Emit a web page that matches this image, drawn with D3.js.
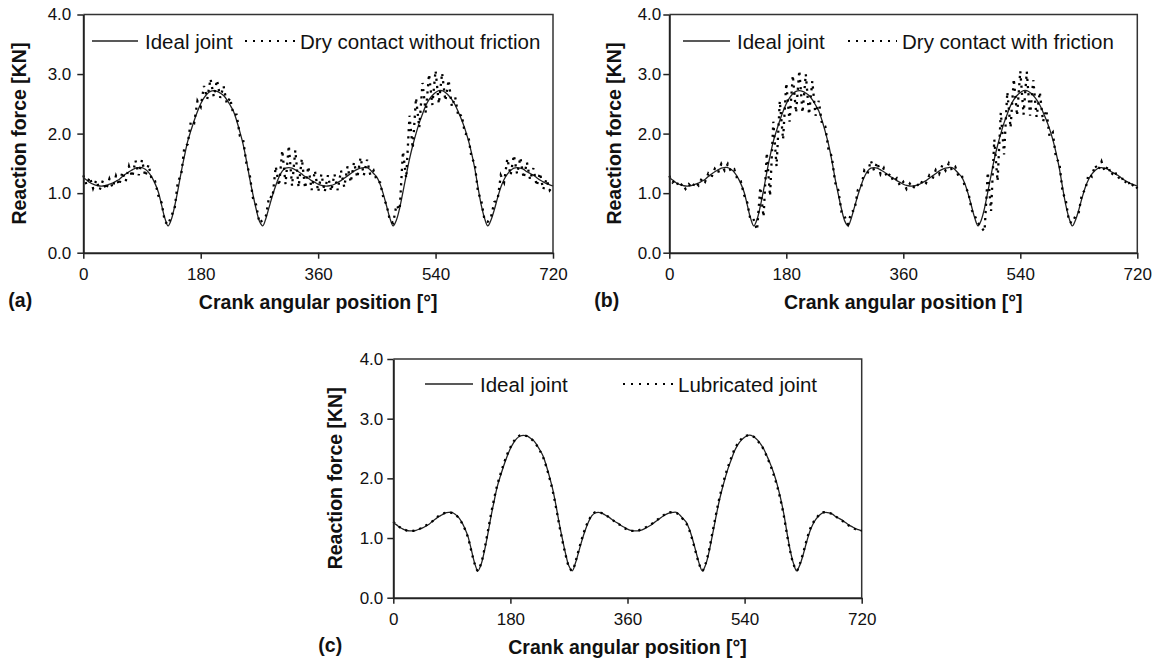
<!DOCTYPE html>
<html>
<head>
<meta charset="utf-8">
<script src="https://cdn.jsdelivr.net/npm/d3@7"></script>
<style>
  body { margin: 0; background: #fff; }
  text { font-family: "Liberation Sans", Arial, Helvetica, sans-serif; fill: #111; }
</style>
</head>
<body>
<svg id="chart" width="1162" height="659"></svg>
<script>
// Datos (grados del ciguenal, fuerza en KN)

const angles = d3.range(0, 721, 5);

const ideal = [
  1.26,1.22,1.18,1.15,1.13,1.12,1.12,1.13,1.15,1.17,1.20,1.23,
  1.28,1.32,1.36,1.39,1.42,1.43,1.43,1.40,1.35,1.27,1.16,1.02,
  0.80,0.58,0.45,0.56,0.78,1.05,1.35,1.62,1.87,2.05,2.22,2.37,
  2.50,2.60,2.67,2.71,2.72,2.71,2.68,2.64,2.57,2.48,2.38,2.22,
  2.03,1.82,1.55,1.25,0.98,0.73,0.53,0.45,0.58,0.77,0.96,1.13,
  1.27,1.37,1.42,1.43,1.42,1.39,1.36,1.32,1.28,1.25,1.21,1.18,
  1.15,1.13,1.12,1.12,1.13,1.15,1.18,1.21,1.25,1.29,1.33,1.37,
  1.40,1.42,1.43,1.43,1.39,1.33,1.27,1.15,0.98,0.78,0.58,0.45,
  0.55,0.75,1.02,1.30,1.57,1.80,2.00,2.18,2.33,2.47,2.57,2.64,
  2.69,2.72,2.72,2.69,2.64,2.57,2.48,2.36,2.23,2.08,1.90,1.68,
  1.42,1.10,0.80,0.58,0.45,0.55,0.72,0.92,1.10,1.23,1.32,1.38,
  1.42,1.43,1.42,1.40,1.36,1.33,1.30,1.26,1.22,1.19,1.16,1.14,
  1.12
];

const dryNoFriction = [
  1.30,1.14,1.27,1.08,1.22,1.05,1.21,1.06,1.24,1.09,1.29,1.13,
  1.36,1.20,1.45,1.27,1.55,1.30,1.56,1.28,1.48,1.22,1.20,0.96,
  0.84,0.52,0.47,0.62,0.74,1.20,1.30,1.78,1.82,2.22,2.18,2.55,
  2.45,2.80,2.58,2.92,2.62,2.90,2.60,2.80,2.50,2.60,2.32,2.32,
  1.96,1.90,1.50,1.32,0.92,0.80,0.50,0.55,0.62,0.95,0.92,1.45,
  1.12,1.72,1.15,1.80,1.12,1.72,1.10,1.58,1.08,1.45,1.05,1.38,
  1.02,1.32,1.02,1.30,1.03,1.32,1.05,1.38,1.10,1.45,1.18,1.52,
  1.26,1.60,1.30,1.56,1.30,1.38,1.20,1.18,0.92,0.80,0.54,0.50,
  0.80,0.72,1.70,1.25,2.30,1.75,2.60,2.10,2.85,2.35,3.00,2.48,
  3.06,2.50,3.02,2.55,2.90,2.45,2.62,2.28,2.32,2.00,1.98,1.60,
  1.50,1.02,0.88,0.55,0.52,0.60,0.85,0.88,1.30,1.18,1.58,1.30,
  1.64,1.32,1.60,1.25,1.52,1.22,1.42,1.12,1.34,1.06,1.24,1.05,
  1.12
];

const dryFriction = [
  1.29,1.18,1.22,1.10,1.16,1.07,1.15,1.09,1.19,1.13,1.25,1.19,
  1.33,1.27,1.41,1.34,1.49,1.38,1.49,1.36,1.40,1.22,1.20,0.97,
  0.84,0.54,0.55,0.38,1.10,0.60,1.68,0.95,2.20,1.45,2.55,1.90,
  2.85,2.20,2.98,2.35,3.06,2.35,3.00,2.32,2.88,2.30,2.55,2.15,
  2.12,1.72,1.62,1.18,1.05,0.68,0.60,0.48,0.68,0.72,1.05,1.08,
  1.38,1.32,1.55,1.38,1.52,1.32,1.42,1.26,1.33,1.19,1.25,1.12,
  1.19,1.07,1.16,1.08,1.17,1.11,1.22,1.17,1.30,1.24,1.39,1.32,
  1.47,1.38,1.50,1.38,1.44,1.28,1.30,1.10,1.02,0.72,0.62,0.50,
  0.42,0.36,1.35,0.70,1.90,1.20,2.35,1.65,2.70,2.10,2.92,2.30,
  3.05,2.32,3.04,2.30,2.90,2.28,2.70,2.20,2.40,1.95,2.02,1.58,
  1.52,1.02,0.88,0.52,0.50,0.62,0.68,1.00,1.05,1.32,1.28,1.47,
  1.38,1.53,1.36,1.46,1.30,1.38,1.24,1.30,1.16,1.23,1.10,1.16,
  1.08
];

const lubricated = [
  1.27,1.22,1.18,1.15,1.13,1.12,1.12,1.13,1.15,1.18,1.21,1.24,
  1.28,1.33,1.37,1.40,1.42,1.43,1.42,1.40,1.34,1.26,1.15,1.00,
  0.78,0.57,0.45,0.58,0.81,1.09,1.39,1.66,1.90,2.08,2.25,2.40,
  2.52,2.62,2.68,2.72,2.72,2.71,2.68,2.63,2.56,2.47,2.36,2.20,
  2.01,1.79,1.52,1.22,0.95,0.71,0.52,0.45,0.60,0.80,0.99,1.16,
  1.29,1.38,1.43,1.43,1.42,1.39,1.36,1.32,1.28,1.24,1.21,1.17,
  1.14,1.12,1.12,1.12,1.14,1.16,1.19,1.22,1.26,1.30,1.34,1.38,
  1.41,1.43,1.43,1.42,1.38,1.32,1.25,1.13,0.96,0.76,0.57,0.45,
  0.57,0.78,1.06,1.34,1.61,1.84,2.04,2.21,2.36,2.50,2.59,2.66,
  2.70,2.72,2.72,2.69,2.63,2.56,2.47,2.34,2.21,2.05,1.87,1.65,
  1.39,1.07,0.78,0.57,0.45,0.57,0.75,0.95,1.13,1.25,1.33,1.39,
  1.43,1.43,1.42,1.40,1.36,1.33,1.29,1.25,1.21,1.18,1.15,1.13,
  1.12
];

const xTicks = [0, 180, 360, 540, 720];
const yTicks = [0, 1, 2, 3, 4];

const idealLabel = "Ideal joint";
const panelNames = ["(a)", "(b)", "(c)"];
const seriesLabels = ["Dry contact without friction", "Dry contact with friction", "Lubricated joint"];
const xTitle = "Crank angular position [°]";
const yTitle = "Reaction force [KN]";

// Paneles: posicion de cada grafica
const panels = [
  { left: 83.3, right: 553, top: 14.5, bottom: 252.7, values: dryNoFriction, name: panelNames[0], label: seriesLabels[0],
    yPad: 6, titleOff: 57, legend: { y: 41, solid: [92, 138], dots: [245, 295] }, linear: true },
  { left: 669.3, right: 1137.3, top: 14.5, bottom: 252.7, values: dryFriction, name: panelNames[1], label: seriesLabels[1],
    yPad: 2, titleOff: 48.5, legend: { y: 41, solid: [683, 730], dots: [848, 897] }, linear: true },
  { left: 393.3, right: 861.7, top: 359, bottom: 597.7, values: lubricated, name: panelNames[2], label: seriesLabels[2],
    yPad: 4, titleOff: 51.5, legend: { y: 384, solid: [425, 473], dots: [623, 673] }, linear: false }
];

const svg = d3.select("#chart");

function dibujarPanel(p) {
  const x = d3.scaleLinear().domain([0, 720]).range([p.left, p.right]);
  const y = d3.scaleLinear().domain([0, 4]).range([p.bottom, p.top]);
  const g = svg.append("g");

  // marco superior y derecho
  g.append("path")
    .attr("d", `M${p.left},${p.top}H${p.right}V${p.bottom}`)
    .attr("fill", "none").attr("stroke", "#333").attr("stroke-width", 1.5);

  // curva ideal
  const lineaIdeal = d3.line().x((d, i) => x(angles[i])).y(d => y(d)).curve(d3.curveCatmullRom);
  g.append("path").datum(ideal)
    .attr("d", lineaIdeal)
    .attr("fill", "none").attr("stroke", "#222").attr("stroke-width", 1.3);

  // curva con contacto (punteada)
  const lineaSerie = d3.line().x((d, i) => x(angles[i])).y(d => y(d))
    .curve(p.linear ? d3.curveLinear : d3.curveCatmullRom);
  g.append("path").datum(p.values)
    .attr("d", lineaSerie)
    .attr("fill", "none").attr("stroke", "#000").attr("stroke-width", 2.3)
    .attr("stroke-dasharray", "2.2,5");

  // ejes
  const ejeX = g.append("g").attr("transform", `translate(0,${p.bottom})`)
    .call(d3.axisBottom(x).tickValues(xTicks).tickSize(6).tickSizeOuter(0).tickPadding(9));
  const ejeY = g.append("g").attr("transform", `translate(${p.left},0)`)
    .call(d3.axisLeft(y).tickValues(yTicks).tickSize(6).tickSizeOuter(0).tickPadding(p.yPad).tickFormat(d3.format(".1f")));
  [ejeX, ejeY].forEach(a => {
    a.select(".domain").attr("stroke", "#222").attr("stroke-width", 2);
    a.selectAll(".tick line").attr("stroke", "#222").attr("stroke-width", 1.5);
    a.selectAll(".tick text").attr("font-size", 17).attr("fill", "#111")
      .attr("font-family", "'Liberation Sans', Arial, sans-serif");
  });

  // titulos
  g.append("text")
    .attr("x", (p.left + p.right) / 2).attr("y", p.bottom + 56)
    .attr("text-anchor", "middle").attr("font-size", 19.5).attr("font-weight", "bold")
    .text(xTitle);
  g.append("text")
    .attr("transform", `translate(${p.left - p.titleOff},${(p.top + p.bottom) / 2}) rotate(-90)`)
    .attr("text-anchor", "middle").attr("font-size", 19.5).attr("font-weight", "bold")
    .text(yTitle);
  g.append("text")
    .attr("x", p.left - 75).attr("y", p.bottom + 54)
    .attr("font-size", 19.5).attr("font-weight", "bold")
    .text(p.name);

  // leyenda
  const L = p.legend;
  g.append("line").attr("x1", L.solid[0]).attr("x2", L.solid[1]).attr("y1", L.y).attr("y2", L.y)
    .attr("stroke", "#222").attr("stroke-width", 1.3);
  g.append("text").attr("x", L.solid[1] + 7).attr("y", L.y + 7.5)
    .attr("font-size", 20.5).text(idealLabel);
  g.append("line").attr("x1", L.dots[0]).attr("x2", L.dots[1]).attr("y1", L.y).attr("y2", L.y)
    .attr("stroke", "#000").attr("stroke-width", 2).attr("stroke-dasharray", "2,6");
  g.append("text").attr("x", L.dots[1] + 5).attr("y", L.y + 7.5)
    .attr("font-size", 20.5).text(p.label);
}

panels.forEach(dibujarPanel);
</script>
</body>
</html>
